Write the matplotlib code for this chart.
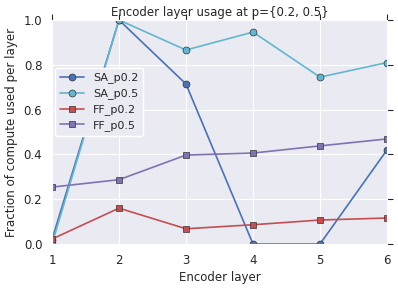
import matplotlib
matplotlib.use("Agg")
import matplotlib.pyplot as plt
import seaborn as sns

layers = [1, 2, 3, 4, 5, 6]
sa_p02 = [0.02, 1.0, 0.714, 0.0, 0.0, 0.42]
sa_p05 = [0.0, 1.0, 0.866, 0.946, 0.745, 0.81]
ff_p02 = [0.022, 0.16, 0.068, 0.086, 0.107, 0.116]
ff_p05 = [0.254, 0.287, 0.397, 0.406, 0.438, 0.469]

sns.set_style("darkgrid")
plt.rcParams['font.family'] = ['DejaVu Sans']
plt.rcParams.update({
    'xtick.direction': 'out', 'ytick.direction': 'out',
    'xtick.color': '#262626', 'ytick.color': '#262626',
})

fig = plt.figure(figsize=(3.98, 2.9), dpi=100)
ax = fig.add_axes([52/398, 1-244/290, 335/398, 224/290])

kw = dict(markersize=5, markeredgecolor='#333333', markeredgewidth=0.5, lw=1.2)
ax.plot(layers, sa_p02, '-o', color='#4C72B0', label='SA_p0.2', **kw)
ax.plot(layers, sa_p05, '-o', color='#64B5CD', label='SA_p0.5', **kw)
ax.plot(layers, ff_p02, '-s', color='#C44E52', label='FF_p0.2', **kw)
ax.plot(layers, ff_p05, '-s', color='#8172B2', label='FF_p0.5', **kw)

ax.set_xlim(1, 6)
ax.set_ylim(0, 1)
ax.set_xticks(layers)
ax.set_yticks([0, 0.2, 0.4, 0.6, 0.8, 1.0])
ax.tick_params(labelsize=8.5, top=True, right=True, length=4, width=0.8, pad=3)
ax.set_xlabel('Encoder layer', fontsize=8.5, color='#262626', labelpad=3)
ax.set_ylabel('Fraction of compute used per layer', fontsize=8.6, color='#262626', labelpad=4)
ax.set_title('Encoder layer usage at p={0.2, 0.5}', fontsize=8.5, color='#262626', pad=3)
leg = ax.legend(loc='upper left', bbox_to_anchor=(0.0, 0.80), frameon=True, fontsize=8,
                facecolor='#EAEAF2', edgecolor='white', framealpha=1, borderaxespad=0.3,
                handlelength=2.2, labelspacing=0.45)

fig.savefig('out.png', dpi=100)
